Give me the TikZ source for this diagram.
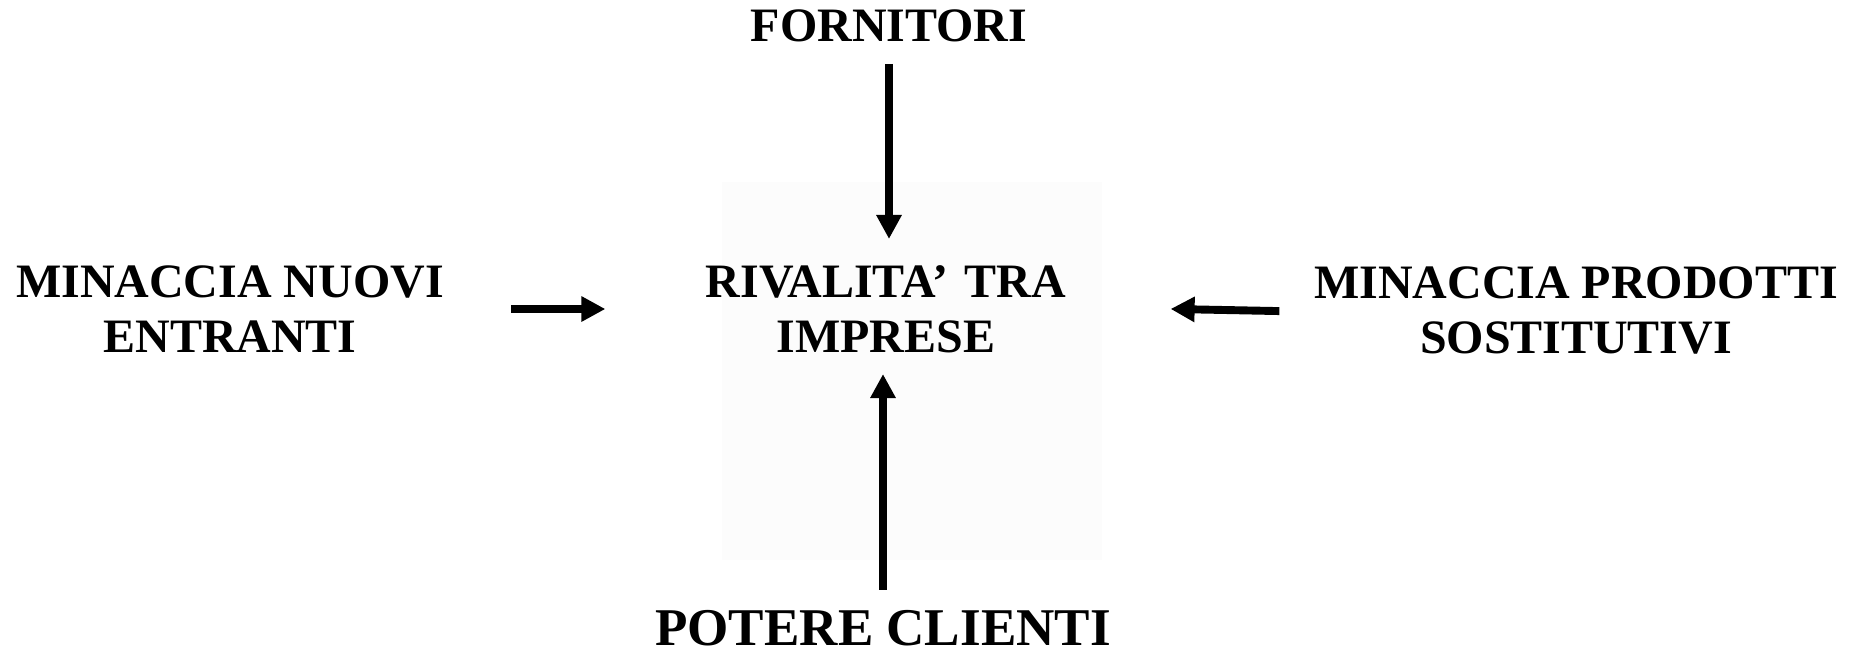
\documentclass[tikz,border=0pt]{standalone}
\usepackage{fontspec}
\setmainfont{Liberation Serif}
\usetikzlibrary{arrows.meta}

\begin{document}
\begin{tikzpicture}[x=0.02cm, y=-0.02cm,
    force/.style={line width=4.5pt, -{Triangle[length=0.48cm, width=0.48cm]}},
    label/.style={inner sep=0pt, align=center,
        font=\fontsize{27.3}{31.3}\selectfont\bfseries}]
    \useasboundingbox (0,0) rectangle (1861,656);
    \fill[black!1] (722,182) rectangle (1102,560);% faint box behind the centre
    \node[label, anchor=base] (fornitori) at (889,41) {FORNITORI};
    \node[label] (rivalita) at (886,309) {RIVALITA'\hspace{0.1em} TRA\\IMPRESE};
    \node[label] (nuovi) at (230,309) {MINACCIA NUOVI\\ENTRANTI};
    \node[label] (prodotti) at (1576,310) {MINACCIA PRODOTTI\\SOSTITUTIVI};
    \node[label, anchor=base, font=\fontsize{30.2}{36}\selectfont\bfseries]
        (clienti) at (883,645) {POTERE CLIENTI};
    % the five forces
    \draw[force, shorten <=0.44cm, shorten >=0.52cm]
        (fornitori.south) -- (fornitori.south |- rivalita.north);% suppliers
    \draw[force, shorten <=0.4cm, shorten >=0.42cm]
        (clienti.north) -- (clienti.north |- rivalita.south);% customers
    \draw[force, shorten <=1.34cm, shorten >=2.0cm]
        (nuovi.east) -- (nuovi.east -| rivalita.west);% new entrants
    \draw[force, shorten <=0.69cm, shorten >=2.08cm]
        ([yshift=-1pt]prodotti.west) -- ([yshift=1.2pt]rivalita.east);% substitutes
\end{tikzpicture}
\end{document}
